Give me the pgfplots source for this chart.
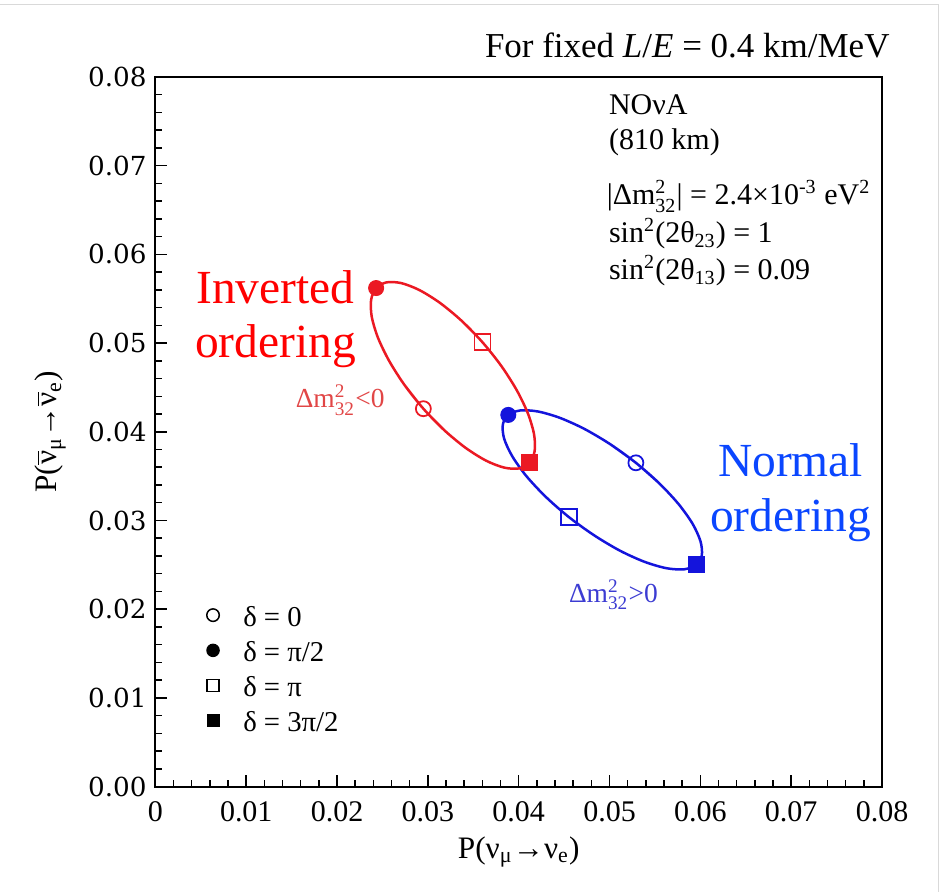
\documentclass[border=0pt]{standalone}
\usepackage{fontspec}
\setmainfont{Liberation Serif}
\newfontfamily\dvserif{DejaVu Serif}
\usepackage{amsmath}
\usepackage{pgfplots}
\pgfplotsset{compat=1.18}

\definecolor{redline}{RGB}{235,25,35}
\definecolor{blueline}{RGB}{20,20,220}
\definecolor{redtext}{RGB}{255,0,0}
\definecolor{bluetext}{RGB}{10,70,255}
\definecolor{redlab}{RGB}{225,70,70}
\definecolor{bluelab}{RGB}{60,60,210}

\begin{document}
\begin{tikzpicture}
\begin{axis}[
  name=ax,
  scale only axis,
  width=290.8pt, height=284pt,
  xmin=0, xmax=0.08, ymin=0, ymax=0.08,
  xtick={0,0.01,0.02,0.03,0.04,0.05,0.06,0.07,0.08},
  ytick={0,0.01,0.02,0.03,0.04,0.05,0.06,0.07,0.08},
  minor tick num=4,
  tick align=inside,
  xtick pos=bottom, ytick pos=left,
  major tick length=4.8pt, minor tick length=2.6pt,
  axis line style={line width=0.8pt},
  every tick/.style={black, line width=0.6pt},
  scaled ticks=false,
  /pgf/number format/assume math mode=true,
  xticklabel style={/pgf/number format/fixed, /pgf/number format/precision=2,
    font=\fontsize{12}{14}\selectfont, yshift=-2.5pt},
  yticklabel style={/pgf/number format/fixed, /pgf/number format/fixed zerofill,
    /pgf/number format/precision=2, font=\dvserif\fontsize{10.5}{12}\selectfont},
  xlabel={P(ν$_{\text{μ}}$→ν$_{\text{e}}$)},
  ylabel={P($\overline{\text{ν}}_{\text{μ}}$→$\overline{\text{ν}}_{\text{e}}$)},
  every axis x label/.style={at={(axis description cs:0.5,-0.092)}, anchor=center,
    font=\fontsize{12.5}{14}\selectfont},
  every axis y label/.style={at={(axis description cs:-0.1444,0.5)}, rotate=90,
    anchor=center, font=\fontsize{12.5}{14}\selectfont},
  legend style={draw=none, fill=none, at={(axis description cs:0.0700,0.2585)},
    anchor=north west, inner sep=0pt, row sep=4.1pt, column sep=9.6pt,
    nodes={inner sep=0pt, text height=9pt, text depth=1pt},
    font=\fontsize{11.5}{13}\selectfont},
  legend cell align=left,
  legend image code/.code={\draw[#1] plot coordinates {(0pt,0.4pt)};},
  clip=false,
]

% normal ordering ellipse
\addplot[blueline, line width=1pt, smooth, mark=none, forget plot] coordinates {
  (0.05545,0.03421) (0.05290,0.03650) (0.05010,0.03858) (0.04723,0.04032)
  (0.04450,0.04158) (0.04209,0.04229) (0.04016,0.04240) (0.03885,0.04190)
  (0.03825,0.04082) (0.03839,0.03924) (0.03927,0.03727) (0.04082,0.03503)
  (0.04295,0.03269) (0.04550,0.03040) (0.04831,0.02832) (0.05117,0.02658)
  (0.05390,0.02532) (0.05631,0.02461) (0.05824,0.02450) (0.05955,0.02500)
  (0.06016,0.02608) (0.06001,0.02766) (0.05914,0.02963) (0.05758,0.03187)
  (0.05545,0.03421) (0.05290,0.03650) (0.05010,0.03858)
};
% inverted ordering ellipse
\addplot[redline, line width=1pt, smooth, mark=none, forget plot] coordinates {
  (0.03180,0.04018) (0.02950,0.04260) (0.02742,0.04528) (0.02571,0.04803)
  (0.02448,0.05066) (0.02381,0.05301) (0.02375,0.05489) (0.02430,0.05620)
  (0.02543,0.05684) (0.02706,0.05676) (0.02907,0.05597) (0.03134,0.05452)
  (0.03370,0.05252) (0.03600,0.05010) (0.03808,0.04742) (0.03979,0.04467)
  (0.04102,0.04204) (0.04169,0.03970) (0.04175,0.03781) (0.04120,0.03650)
  (0.04007,0.03587) (0.03844,0.03595) (0.03643,0.03673) (0.03416,0.03818)
  (0.03180,0.04018) (0.02950,0.04260) (0.02742,0.04528)
};

% markers, normal ordering
\addplot[only marks, mark=o, blueline, mark size=3pt, mark options={line width=0.7pt}, forget plot] coordinates {(0.0529,0.0365)};
\addplot[only marks, mark=*, blueline, mark size=3pt, forget plot] coordinates {(0.03885,0.0419)};
\addplot[only marks, mark=square, blueline, mark size=3.2pt, mark options={line width=0.7pt}, forget plot] coordinates {(0.0455,0.0304)};
\addplot[only marks, mark=square*, blueline, mark size=3.2pt, forget plot] coordinates {(0.05955,0.0250)};
% markers, inverted ordering
\addplot[only marks, mark=o, redline, mark size=3pt, mark options={line width=0.7pt}, forget plot] coordinates {(0.0295,0.0426)};
\addplot[only marks, mark=*, redline, mark size=3pt, forget plot] coordinates {(0.0243,0.0562)};
\addplot[only marks, mark=square, redline, mark size=3.2pt, mark options={line width=0.7pt}, forget plot] coordinates {(0.0360,0.0501)};
\addplot[only marks, mark=square*, redline, mark size=3.2pt, forget plot] coordinates {(0.0412,0.0365)};

\addlegendimage{only marks, mark=o, black, mark size=2.5pt, mark options={line width=0.6pt}}
\addlegendentry{δ = 0}
\addlegendimage{only marks, mark=*, black, mark size=2.5pt}
\addlegendentry{δ = π/2}
\addlegendimage{only marks, mark=square, black, mark size=2.4pt, mark options={line width=0.6pt}}
\addlegendentry{δ = π}
\addlegendimage{only marks, mark=square*, black, mark size=2.4pt}
\addlegendentry{δ = 3π/2}

% text
\node[anchor=base east, inner sep=0pt, font=\fontsize{14}{16}\selectfont] at (axis description cs:1.011,1.027)
  {For fixed \textit{L}/\textit{E} = 0.4 km/MeV};

\begin{scope}[font=\fontsize{12}{14}\selectfont, inner sep=0pt]
\node[anchor=base west] at (axis cs:0.04989,0.07572) {NOνA};
\node[anchor=base west] at (axis cs:0.04989,0.07177) {(810 km)};
\node[anchor=base west] at (axis cs:0.04965,0.06558) {|Δm$^{\text{2}}_{\text{32}}$| = 2.4×10$^{\text{-3}}$ eV$^{\text{2}}$};
\node[anchor=base west] at (axis cs:0.04989,0.06130) {sin$^{\text{2}}$(2θ$_{\text{23}}$) = 1};
\node[anchor=base west] at (axis cs:0.04989,0.05713) {sin$^{\text{2}}$(2θ$_{\text{13}}$) = 0.09};
\end{scope}

\begin{scope}[font=\fontsize{19}{22}\selectfont]
\node[anchor=base, redtext] at (axis cs:0.01322,0.05442) {Inverted};
\node[anchor=base, redtext] at (axis cs:0.01322,0.04834) {ordering};
\node[anchor=base, bluetext] at (axis cs:0.06993,0.03493) {Normal};
\node[anchor=base, bluetext] at (axis cs:0.06993,0.02873) {ordering};
\end{scope}

\node[anchor=base west, inner sep=0pt, redlab, font=\fontsize{11}{13}\selectfont] at (axis cs:0.0154,0.0427)
  {Δm$^{\text{2}}_{\text{32}}$<0};
\node[anchor=base west, inner sep=0pt, bluelab, font=\fontsize{11}{13}\selectfont] at (axis cs:0.04548,0.02073)
  {Δm$^{\text{2}}_{\text{32}}$>0};
\end{axis}

% page extent and the thin frame of the original picture
\path ([xshift=-62pt,yshift=-42pt]ax.south west) rectangle ([xshift=25.6pt,yshift=30.8pt]ax.north east);
\draw[gray!30, line width=0.4pt] ([xshift=-62pt,yshift=28.8pt]ax.north west) -- ([xshift=22.4pt,yshift=28.8pt]ax.north east)
  -- ([xshift=22.4pt,yshift=-42pt]ax.south east);
\end{tikzpicture}
\end{document}
